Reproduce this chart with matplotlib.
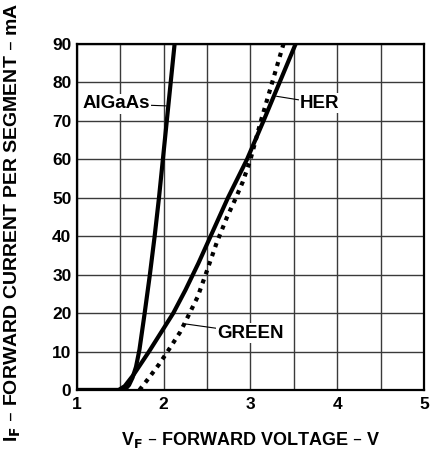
import numpy as np
import matplotlib.pyplot as plt

plt.rcParams['font.family'] = ['Liberation Sans', 'DejaVu Sans']
plt.rcParams['font.weight'] = 'bold'
plt.rcParams['mathtext.default'] = 'bf'

# forward voltage (V) / forward current (mA)
algaas_v = [1.0, 1.52, 1.56, 1.60, 1.64, 1.68, 1.72, 1.78, 1.84, 1.895, 1.945, 1.99, 2.035, 2.08, 2.125]
algaas_i = [0.0, 0.0, 0.3, 1.3, 3.2, 6.0, 10.5, 20.0, 30.0, 40.0, 50.0, 60.0, 70.0, 80.0, 90.0]

her_v = [1.0, 1.48, 1.55, 1.65, 1.83, 2.11, 2.25, 2.40, 2.55, 2.74, 2.96, 3.15, 3.335, 3.52]
her_i = [0.0, 0.0, 1.0, 3.9, 10.0, 20.0, 26.0, 33.0, 40.5, 50.0, 60.0, 70.0, 80.0, 90.0]

green_v = [1.72, 1.81, 1.95, 2.07, 2.19, 2.29, 2.39, 2.49, 2.61, 2.73, 2.82, 2.91, 3.0, 3.12, 3.25, 3.38]
green_i = [0.0, 2.6, 6.8, 10.9, 15.1, 19.6, 24.2, 30.5, 38.3, 45.0, 49.4, 54.1, 60.0, 70.0, 80.0, 90.0]

fig = plt.figure(figsize=(4.31, 4.55), dpi=100)
ax = fig.add_axes([77 / 431, (455 - 390) / 455, 347 / 431, 346 / 455])

ax.plot(algaas_v, algaas_i, color='black', lw=3.0, solid_joinstyle='round')
ax.plot(her_v, her_i, color='black', lw=3.0, solid_joinstyle='round')
ax.plot(green_v, green_i, color='black', lw=3.0, linestyle=(0, (1, 1.3)))

ax.set_xlim(1, 5)
ax.set_ylim(0, 90)
ax.set_xticks([1, 2, 3, 4, 5])
ax.set_xticks(np.arange(1.5, 5, 1.0), minor=True)
ax.set_yticks(np.arange(0, 91, 10))
ax.grid(True, which='both', color='#3a3a3a', lw=1.0)
ax.tick_params(which='both', length=0, labelsize=12.5)
ax.tick_params(axis='y', pad=4)
ax.tick_params(axis='x', pad=5)
for lab in ax.get_xticklabels() + ax.get_yticklabels():
    lab.set_fontweight('bold')
for s in ax.spines.values():
    s.set_linewidth(1.6)

ax.set_xlabel('V$_F$ – FORWARD VOLTAGE – V', fontsize=13, fontweight='bold', labelpad=13)
ax.set_ylabel('I$_F$ – FORWARD CURRENT PER SEGMENT – mA', fontsize=14,
              fontweight='bold')
ax.yaxis.set_label_coords(-0.155, 0.484)

# curve labels with leader lines
lbl = dict(fontsize=13.5, fontweight='bold', va='center',
           bbox=dict(fc='white', ec='none', pad=1))
arr = dict(arrowstyle='-', color='black', lw=0.8, shrinkA=0, shrinkB=0)
ax.annotate('AlGaAs', xy=(2.03, 73.9), xytext=(1.84, 74.4), ha='right', arrowprops=arr, **lbl)
ax.annotate('HER', xy=(3.30, 76.4), xytext=(3.57, 74.6), ha='left', arrowprops=arr, **lbl)
ax.annotate('GREEN', xy=(2.245, 17.2), xytext=(2.62, 14.8), ha='left', arrowprops=arr, **lbl)

fig.savefig('out.png', dpi=100)
